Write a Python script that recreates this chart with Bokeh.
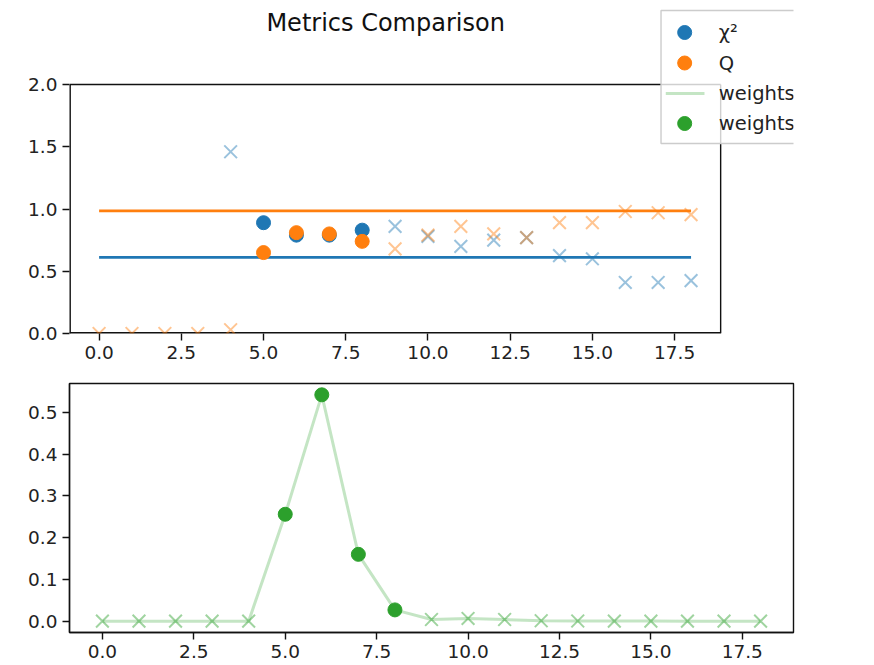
from bokeh.plotting import figure
from bokeh.layouts import column
from bokeh.models import ColumnDataSource, FixedTicker, NumeralTickFormatter, Range1d
from bokeh.core.properties import value
from bokeh.embed import file_html
from bokeh.resources import INLINE

nan = float("nan")

# ---------------- data ----------------
steps = list(range(19))
chi2_values = [nan, nan, nan, nan, 1.46, 0.89, 0.79, 0.79, 0.83, 0.86, 0.78, 0.70,
               0.75, 0.77, 0.625, 0.60, 0.41, 0.41, 0.425]
q_values = [0.0, 0.0, 0.0, 0.0, 0.03, 0.65, 0.81, 0.80, 0.74, 0.68, 0.79, 0.86,
            0.80, 0.77, 0.89, 0.89, 0.98, 0.97, 0.955]
weight_values = [0.0, 0.0, 0.0, 0.0, 0.0, 0.256, 0.542, 0.160, 0.027, 0.004, 0.0065,
                 0.004, 0.001, 0.0005, 0.0003, 0.0002, 0.0001, 0.0001, 0.0001]
selected_steps = [5, 6, 7, 8]
chi2_reference = 0.611
q_reference = 0.985
x_ticks = [0.0, 2.5, 5.0, 7.5, 10.0, 12.5, 15.0, 17.5]
top_y_ticks = [0.0, 0.5, 1.0, 1.5, 2.0]
bottom_y_ticks = [0.0, 0.1, 0.2, 0.3, 0.4, 0.5]
legend_labels = ["χ²", "Q", "weights", "weights"]
title_text = "Metrics Comparison"

BLUE = "#1f77b4"
ORANGE = "#ff7f0e"
GREEN = "#2ca02c"
FONT = "DejaVu Sans"
SPINE = "#111111"

# ---------------- layout (page pixels) ----------------
X_LO, X_HI = -0.9, 18.9          # axes x limits
Y1_LO, Y1_HI = 0.0, 2.0          # top axes y limits
AX_LEFT, AX_RIGHT = 69, 793      # axes box, page px
AX1_TOP, AX1_BOTTOM = 84, 333
PAGE_W = 874
PX_PER_X = (AX_RIGHT - AX_LEFT) / (X_HI - X_LO)
PX_PER_Y1 = (AX1_BOTTOM - AX1_TOP) / (Y1_HI - Y1_LO)


def px_x(px):
    return X_LO + (px - AX_LEFT) / PX_PER_X


def px_y(py):
    return Y1_LO + (AX1_BOTTOM - py) / PX_PER_Y1


def split(vals):
    sel = {"x": [], "y": []}
    rest = {"x": [], "y": []}
    for s, v in zip(steps, vals):
        d = sel if s in selected_steps else rest
        d["x"].append(s)
        d["y"].append(v)
    return ColumnDataSource(sel), ColumnDataSource(rest)


def style_axes(p, yticks, show_axis_line):
    p.xgrid.visible = False
    p.ygrid.visible = False
    p.background_fill_color = "white"
    p.border_fill_color = "white"
    for ax, ticks in ((p.xaxis[0], x_ticks), (p.yaxis[0], yticks)):
        ax.ticker = FixedTicker(ticks=ticks)
        ax.formatter = NumeralTickFormatter(format="0.0")
        ax.axis_line_color = SPINE if show_axis_line else None
        ax.axis_line_width = 1.4
        ax.major_tick_line_color = SPINE
        ax.major_tick_line_width = 1.4
        ax.major_tick_out = 7
        ax.major_tick_in = 0
        ax.minor_tick_line_color = None
        ax.major_label_text_font = FONT
        ax.major_label_text_font_size = "18.5px"
        ax.major_label_text_color = "#222222"
        ax.major_label_standoff = 5


# ---------------- top panel (frame extends over title and legend area) ----------------
p1 = figure(width=PAGE_W, height=371,
            x_range=Range1d(X_LO, px_x(PAGE_W)), y_range=Range1d(Y1_LO, px_y(0)),
            output_backend="svg", toolbar_location=None,
            min_border_left=AX_LEFT, min_border_right=0, min_border_top=0, min_border_bottom=38)
style_axes(p1, top_y_ticks, show_axis_line=False)
p1.outline_line_color = None

# axes box (left/bottom lie on the frame edge, so they are drawn twice as wide)
p1.segment(x0=[X_LO, X_LO], y0=[Y1_LO, Y1_LO], x1=[X_LO, X_HI], y1=[Y1_HI, Y1_LO],
           line_color=SPINE, line_width=2.8)
p1.segment(x0=[X_LO, X_HI], y0=[Y1_HI, Y1_LO], x1=[X_HI, X_HI], y1=[Y1_HI, Y1_HI],
           line_color=SPINE, line_width=1.4)

p1.line(x=[steps[0], steps[-1]], y=[chi2_reference, chi2_reference], line_color=BLUE, line_width=2.8)
p1.line(x=[steps[0], steps[-1]], y=[q_reference, q_reference], line_color=ORANGE, line_width=2.8)

chi_sel, chi_rest = split(chi2_values)
q_sel, q_rest = split(q_values)

p1.scatter("x", "y", source=chi_rest, marker="x", size=18, line_color=BLUE, line_alpha=0.45, line_width=2)
p1.scatter("x", "y", source=q_rest, marker="x", size=18, line_color=ORANGE, line_alpha=0.45, line_width=2)
p1.scatter("x", "y", source=chi_sel, marker="circle", size=14, fill_color=BLUE, line_color=BLUE)
p1.scatter("x", "y", source=q_sel, marker="circle", size=14, fill_color=ORANGE, line_color=ORANGE)

# figure title
p1.text(x=[px_x(420.5)], y=[px_y(22.5)], text=[title_text], text_align="center",
        text_baseline="middle", text_font=value(FONT), text_font_size="24px",
        text_color="#111111")

# figure legend (page pixel layout)
box_left, box_top, box_bottom = 726.7, 10, 143
row_y = [32, 62.5, 93, 123]
glyph_x = 753
line_x = [732, 775]
label_x = 791
p1.quad(left=[px_x(box_left)], right=[px_x(PAGE_W + 20)], top=[px_y(box_top)],
        bottom=[px_y(box_bottom)], fill_color="white", fill_alpha=0.8,
        line_color="#cccccc", line_width=1.4)
p1.scatter(x=[px_x(glyph_x)] * 3, y=[px_y(row_y[0]), px_y(row_y[1]), px_y(row_y[3])],
           marker="circle", size=14, fill_color=[BLUE, ORANGE, GREEN],
           line_color=[BLUE, ORANGE, GREEN])
p1.line(x=[px_x(line_x[0]), px_x(line_x[1])], y=[px_y(row_y[2])] * 2,
        line_color=GREEN, line_alpha=0.28, line_width=3)
p1.text(x=[px_x(label_x)] * 4, y=[px_y(r) for r in row_y], text=legend_labels,
        text_baseline="middle", text_font=value(FONT), text_font_size="19.5px",
        text_color="#222222")

# ---------------- bottom panel ----------------
p2 = figure(width=PAGE_W, height=294, x_range=Range1d(X_LO, X_HI),
            y_range=Range1d(-0.0271, 0.5691),
            output_backend="svg", toolbar_location=None,
            min_border_left=AX_LEFT, min_border_right=PAGE_W - AX_RIGHT,
            min_border_top=12, min_border_bottom=33)
style_axes(p2, bottom_y_ticks, show_axis_line=True)
p2.outline_line_color = SPINE
p2.outline_line_width = 1.4
p2.outline_line_alpha = 1.0

w_sel, w_rest = split(weight_values)
p2.line(x=steps, y=weight_values, line_color=GREEN, line_alpha=0.28, line_width=3)
p2.scatter("x", "y", source=w_rest, marker="x", size=18, line_color=GREEN, line_alpha=0.45, line_width=2)
p2.scatter("x", "y", source=w_sel, marker="circle", size=14, fill_color=GREEN, line_color=GREEN)

layout = column(p1, p2, spacing=0)
open("out.html", "w").write(file_html(layout, INLINE))
